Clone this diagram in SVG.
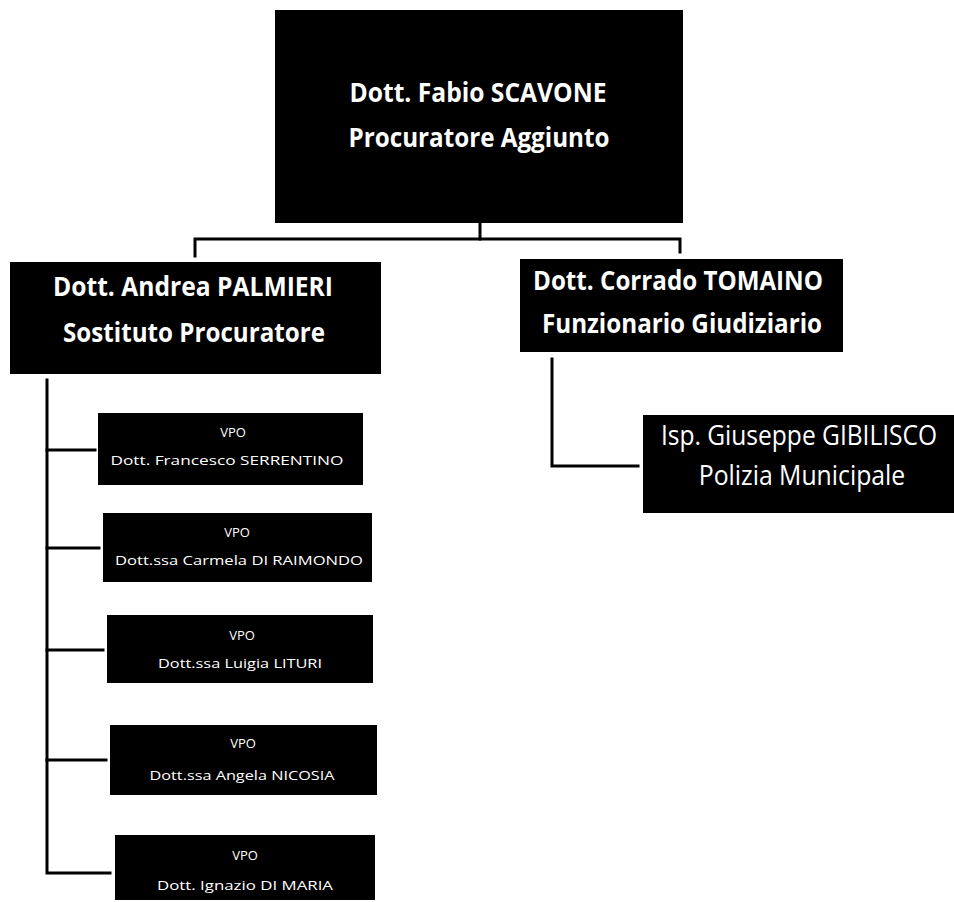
<svg xmlns="http://www.w3.org/2000/svg" width="954" height="902" viewBox="0 0 954 902">
  <style>
    .box { fill: #000000; }
    .title { fill: #ffffff; font-family: "Open Sans", "Liberation Sans", sans-serif; font-weight: bold; font-size: 26px; text-anchor: middle; }
    .sub { fill: #ffffff; font-family: "Open Sans", "Liberation Sans", sans-serif; font-size: 28px; text-anchor: middle; }
    .vpo { fill: #ffffff; font-family: "Open Sans", "Liberation Sans", sans-serif; font-size: 13px; text-anchor: middle; }
    .link { fill: none; stroke: #000000; stroke-width: 3; stroke-linejoin: miter; stroke-linecap: square; }
  </style>
  <rect width="954" height="902" fill="#ffffff"/>

  <!-- connectors -->
  <g id="connectors">
    <path class="link" d="M480 223 V239"/>
    <path class="link" d="M195 256 V239 H680 V252"/>
    <path class="link" d="M552 359 V466 H638"/>
    <path class="link" d="M47 380 V873 H110"/>
    <path class="link" d="M47 450 H95"/>
    <path class="link" d="M47 548 H99"/>
    <path class="link" d="M47 650 H103"/>
    <path class="link" d="M47 760 H106"/>
  </g>

  <!-- head of office -->
  <g id="scavone">
    <rect class="box" x="275" y="10" width="408" height="213"/>
    <text class="title" x="478" y="102" textLength="257" lengthAdjust="spacingAndGlyphs">Dott. Fabio SCAVONE</text>
    <text class="title" x="479" y="147" textLength="261" lengthAdjust="spacingAndGlyphs">Procuratore Aggiunto</text>
  </g>

  <!-- deputy prosecutor -->
  <g id="palmieri">
    <rect class="box" x="10" y="262" width="371" height="112"/>
    <text class="title" x="193" y="296" textLength="280" lengthAdjust="spacingAndGlyphs">Dott. Andrea PALMIERI</text>
    <text class="title" x="194" y="342" textLength="262" lengthAdjust="spacingAndGlyphs">Sostituto Procuratore</text>
  </g>

  <!-- judicial officer -->
  <g id="tomaino">
    <rect class="box" x="520" y="259" width="323" height="93"/>
    <text class="title" x="678" y="290" textLength="290" lengthAdjust="spacingAndGlyphs">Dott. Corrado TOMAINO</text>
    <text class="title" x="682" y="333" textLength="280" lengthAdjust="spacingAndGlyphs">Funzionario Giudiziario</text>
  </g>

  <!-- municipal police: lines narrowed horizontally to fit the box -->
  <g id="gibilisco">
    <rect class="box" x="643" y="415" width="311" height="98"/>
    <text class="sub" transform="translate(799 445) scale(0.85 1)" textLength="325" lengthAdjust="spacingAndGlyphs">Isp. Giuseppe GIBILISCO</text>
    <text class="sub" transform="translate(802 485) scale(0.85 1)" textLength="243" lengthAdjust="spacingAndGlyphs">Polizia Municipale</text>
  </g>

  <!-- honorary prosecutors -->
  <g id="vpo-serrentino">
    <rect class="box" x="98" y="413" width="265" height="72"/>
    <text class="vpo" x="233" y="437">VPO</text>
    <text class="vpo" x="227" y="465" textLength="233" lengthAdjust="spacingAndGlyphs">Dott. Francesco SERRENTINO</text>
  </g>
  <g id="vpo-diraimondo">
    <rect class="box" x="103" y="513" width="269" height="69"/>
    <text class="vpo" x="237" y="537">VPO</text>
    <text class="vpo" x="239" y="565" textLength="248" lengthAdjust="spacingAndGlyphs">Dott.ssa Carmela DI RAIMONDO</text>
  </g>
  <g id="vpo-lituri">
    <rect class="box" x="107" y="615" width="266" height="68"/>
    <text class="vpo" x="242" y="640">VPO</text>
    <text class="vpo" x="240" y="668" textLength="164" lengthAdjust="spacingAndGlyphs">Dott.ssa Luigia LITURI</text>
  </g>
  <g id="vpo-nicosia">
    <rect class="box" x="110" y="725" width="267" height="70"/>
    <text class="vpo" x="243" y="748">VPO</text>
    <text class="vpo" x="242" y="780" textLength="185" lengthAdjust="spacingAndGlyphs">Dott.ssa Angela NICOSIA</text>
  </g>
  <g id="vpo-dimaria">
    <rect class="box" x="115" y="835" width="260" height="65"/>
    <text class="vpo" x="245" y="860">VPO</text>
    <text class="vpo" x="245" y="890" textLength="176" lengthAdjust="spacingAndGlyphs">Dott. Ignazio DI MARIA</text>
  </g>
</svg>
